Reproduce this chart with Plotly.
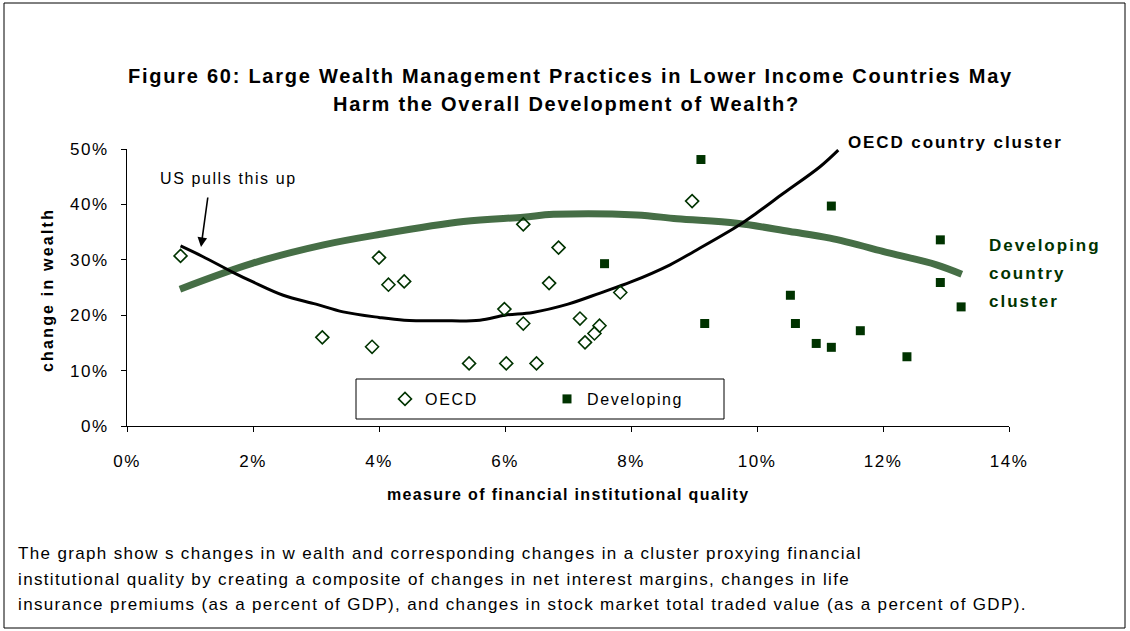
import plotly.graph_objects as go

# Scatter data: x = measure of financial institutional quality (%), y = change in wealth (%)
oecd_x = [0.85, 4.00, 4.15, 3.10, 3.89, 4.40, 6.29, 6.85, 6.70, 5.99,
          6.29, 7.19, 7.83, 7.50, 7.42, 7.27, 5.43, 6.02, 6.50, 8.97]
oecd_y = [30.7, 30.4, 25.5, 16.0, 14.3, 26.1, 36.4, 32.2, 25.8, 21.1,
          18.5, 19.4, 24.1, 18.1, 16.7, 15.1, 11.3, 11.3, 11.3, 40.6]

dev_x = [7.58, 9.11, 9.17, 11.18, 10.53, 10.61, 10.94, 11.18, 11.64, 12.38, 12.91, 12.91, 13.24]
dev_y = [29.3, 48.1, 18.5, 39.7, 23.6, 18.5, 14.9, 14.2, 17.2, 12.5, 33.6, 25.9, 21.5]

# Cluster trend curves
oecd_trend_x = [0.85, 1.2, 1.69, 2.0, 2.48, 3.0, 3.43, 4.0, 4.4, 5.0, 5.6, 6.0,
                6.44, 7.0, 7.51, 8.0, 8.62, 9.0, 9.68, 10.0, 10.42, 11.0, 11.29]
oecd_trend_y = [32.5, 30.6, 27.7, 26.0, 23.6, 22.0, 20.6, 19.6, 19.1, 19.0, 19.1, 20.0,
                20.5, 22.0, 24.0, 26.0, 29.1, 31.5, 36.0, 38.5, 42.0, 46.8, 49.8]

dev_trend_x = [0.84, 2.0, 3.12, 4.02, 5.34, 6.29, 6.77, 8.09, 8.73, 9.68, 10.52, 11.16, 12.11, 12.85, 13.25]
dev_trend_y = [24.7, 29.4, 32.7, 34.6, 36.9, 37.7, 38.2, 38.1, 37.4, 36.6, 35.1, 33.9, 31.2, 29.1, 27.4]

x_ticks = [0, 2, 4, 6, 8, 10, 12, 14]
y_ticks = [0, 10, 20, 30, 40, 50]

FONT = "Liberation Sans, Arial, sans-serif"
DARK_GREEN = "#003300"
LINE_GREEN = "#466e46"

W, H = 1130, 631
L, R, T, B = 127, 121, 149, 205


def px(x):
    return (x - L) / (W - L - R)


def py(y):
    return (H - B - y) / (H - T - B)


def spaced(text, ls, bold=False):
    """Wrap text in a span with extra letter spacing (wide chart lettering)."""
    inner = f"<b>{text}</b>" if bold else text
    return f"<span style='letter-spacing:{ls}px'>{inner}</span>"


fig = go.Figure()

fig.add_trace(go.Scatter(x=dev_trend_x, y=dev_trend_y, mode="lines",
                         line=dict(color=LINE_GREEN, width=7, shape="spline"),
                         showlegend=False, hoverinfo="skip"))
fig.add_trace(go.Scatter(x=oecd_trend_x, y=oecd_trend_y, mode="lines",
                         line=dict(color="black", width=3, shape="spline"),
                         showlegend=False, hoverinfo="skip"))
fig.add_trace(go.Scatter(x=oecd_x, y=oecd_y, mode="markers", name=spaced("OECD", 1.7),
                         marker=dict(symbol="diamond-open", size=10, color=DARK_GREEN,
                                     line=dict(width=1.6, color=DARK_GREEN)),
                         legend="legend"))
fig.add_trace(go.Scatter(x=dev_x, y=dev_y, mode="markers", name=spaced("Developing", 1.6),
                         marker=dict(symbol="square", size=9, color=DARK_GREEN),
                         legend="legend2"))

legend_common = dict(font=dict(family=FONT, size=16, color="black"),
                     bgcolor="rgba(0,0,0,0)", borderwidth=0,
                     xanchor="left", yanchor="middle", y=py(399))

annotations = [
    dict(text=spaced("Figure 60: Large Wealth Management Practices in Lower Income Countries May", 1.75, True),
         x=px(570), y=py(76), font=dict(size=20)),
    dict(text=spaced("Harm the Overall Development of Wealth?", 1.75, True),
         x=px(566), y=py(104), font=dict(size=20)),
    dict(text=spaced("US pulls this up", 1.6), x=px(228), y=py(178), font=dict(size=16)),
    dict(text=spaced("OECD country cluster", 1.9, True), x=px(846), y=py(142), xanchor="left",
         font=dict(size=17)),
    dict(text=spaced("Developing", 2.0, True), x=px(987), y=py(245), xanchor="left",
         font=dict(size=17, color=DARK_GREEN)),
    dict(text=spaced("country", 2.0, True), x=px(987), y=py(273), xanchor="left",
         font=dict(size=17, color=DARK_GREEN)),
    dict(text=spaced("cluster", 2.0, True), x=px(987), y=py(301), xanchor="left",
         font=dict(size=17, color=DARK_GREEN)),
    dict(text=spaced("change in wealth", 2.2, True), x=px(47), y=py(290), textangle=-90,
         font=dict(size=16)),
    dict(text=spaced("measure of financial institutional quality", 1.35, True), x=px(568), y=py(494),
         font=dict(size=16)),
    dict(text=spaced("The graph show s changes in w ealth and corresponding changes in a cluster proxying financial", 1.35),
         x=px(16), y=py(553), xanchor="left", font=dict(size=17)),
    dict(text=spaced("institutional quality by creating a composite of changes in net interest margins, changes in life", 1.35),
         x=px(16), y=py(579), xanchor="left", font=dict(size=17)),
    dict(text=spaced("insurance premiums (as a percent of GDP), and changes in stock market total traded value (as a percent of GDP).", 1.35),
         x=px(16), y=py(604), xanchor="left", font=dict(size=17)),
]
for a in annotations:
    a.setdefault("xref", "paper")
    a.setdefault("yref", "paper")
    a.setdefault("showarrow", False)
    a.setdefault("xanchor", "center")
    a.setdefault("yanchor", "middle")
    a["font"] = dict(family=FONT, color=a["font"].get("color", "black"), size=a["font"]["size"])

# arrow pointing at the start of the OECD curve
annotations.append(dict(text="", xref="paper", yref="paper", x=px(201), y=py(247),
                        ax=7, ay=-51, showarrow=True, arrowhead=2, arrowsize=1.2,
                        arrowwidth=1.6, arrowcolor="black"))

shapes = [
    # outer frame
    dict(type="rect", xref="paper", yref="paper", x0=px(4), x1=px(1125), y0=py(628), y1=py(3),
         line=dict(color="black", width=1)),
    # legend box
    dict(type="rect", xref="paper", yref="paper", x0=px(356), x1=px(724), y0=py(419), y1=py(379),
         line=dict(color="black", width=1), fillcolor="white", layer="below"),
]

tick_font = dict(family=FONT, size=17, color="black")

fig.update_layout(
    width=W, height=H,
    margin=dict(l=L, r=R, t=T, b=B, pad=0),
    paper_bgcolor="white", plot_bgcolor="white",
    font=dict(family=FONT, size=16, color="black"),
    legend=dict(x=px(385), **legend_common),
    legend2=dict(x=px(547), **legend_common),
    annotations=annotations,
    shapes=shapes,
    xaxis=dict(range=[0, 14], tickvals=x_ticks, ticktext=[spaced(f"{v}%", 1.5) for v in x_ticks],
               showline=True, linecolor="black", linewidth=1, ticks="outside",
               ticklen=5, tickcolor="black", showgrid=False, zeroline=False,
               ticklabelstandoff=15, tickfont=tick_font),
    yaxis=dict(range=[0, 50], tickvals=y_ticks, ticktext=[spaced(f"{v}%", 1.5) for v in y_ticks],
               showline=True, linecolor="black", linewidth=1, ticks="outside",
               ticklen=5, tickcolor="black", showgrid=False, zeroline=False,
               ticklabelstandoff=9, tickfont=tick_font),
)

fig.write_html("out.html")
